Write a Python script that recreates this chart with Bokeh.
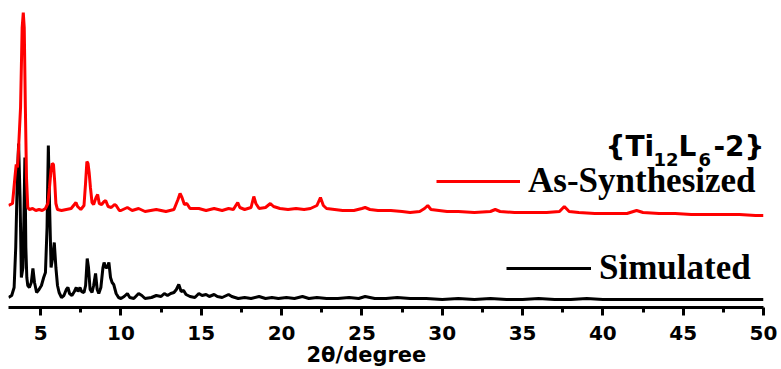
from bokeh.plotting import figure
from bokeh.models import (Range1d, FixedTicker, Legend, LegendItem, Label, Title)
from bokeh.embed import file_html
from bokeh.resources import INLINE

# Powder XRD patterns, intensities offset for stacking (a.u.)
sim_2theta = [3.0, 3.2, 3.35, 3.45, 3.55, 3.63, 3.72, 3.8, 3.9, 3.96, 4.02, 4.08, 4.14, 4.2, 4.3,
              4.42, 4.52, 4.62, 4.75, 4.9, 5.05, 5.19, 5.3, 5.4, 5.48, 5.56, 5.65, 5.75,
              5.85, 5.95, 6.05, 6.15, 6.3, 6.45, 6.6, 6.7, 6.8, 6.95, 7.1, 7.22, 7.33,
              7.45, 7.55, 7.7, 7.8, 7.9, 7.98, 8.08, 8.2, 8.3, 8.42, 8.52, 8.62, 8.75,
              8.88, 8.95, 9.05, 9.15, 9.25, 9.35, 9.45, 9.55, 9.7, 9.85, 10.0, 10.2,
              10.4, 10.55, 10.8, 11.1, 11.3, 11.5, 11.9, 12.2, 12.5, 12.7, 12.9, 13.1,
              13.3, 13.45, 13.6, 13.75, 13.9, 14.05, 14.3, 14.6, 14.85, 15.05, 15.3,
              15.5, 15.8, 16.0, 16.3, 16.7, 16.9, 17.3, 17.7, 18.1, 18.6, 19.0, 19.4,
              19.8, 20.3, 20.8, 21.3, 21.7, 22.2, 22.8, 23.5, 24.2, 24.8, 25.2, 25.8,
              26.5, 27.2, 28.0, 29.0, 30.0, 31.0, 32.0, 33.0, 34.0, 35.0, 36.0, 37.0,
              38.0, 39.0, 40.0, 41.0, 42.0, 43.0, 44.0, 45.0, 46.0, 47.0, 48.0, 49.0, 50.0]
sim_int = [10, 12, 20, 60, 130, 164, 110, 30, 40, 90, 150, 60, 30, 22, 20,
           25, 39, 25, 15, 18, 22, 30, 35, 80, 162, 100, 40, 50,
           65, 40, 22, 15, 10, 12, 18, 20, 14, 12, 16, 20, 16,
           20, 16, 15, 22, 49, 40, 18, 15, 22, 34, 18, 14, 20,
           40, 45, 40, 40, 45, 30, 25, 23, 14, 10, 9, 11,
           14, 10, 9, 14, 12, 9, 10, 12, 11, 14, 12, 14,
           15, 18, 23, 16, 17, 13, 11, 10, 14, 12, 13,
           11, 13, 11, 10, 13, 11, 9, 10, 9, 11, 9, 10,
           9, 10, 9, 11, 9, 10, 9, 9, 10, 9, 11, 9,
           9, 10, 9, 9, 8, 9, 8, 9, 8, 8, 9, 8,
           8, 9, 8, 8, 8, 8, 8, 8, 8, 8, 8, 8, 8]

exp_2theta = [3.0, 3.25, 3.4, 3.48, 3.56, 3.6, 3.75, 3.85, 3.92, 3.98, 4.05, 4.12, 4.2, 4.3,
              4.5, 4.7, 4.9, 5.1, 5.3, 5.45, 5.55, 5.65, 5.72, 5.8, 5.88, 5.95, 6.05,
              6.3, 6.6, 6.9, 7.1, 7.2, 7.3, 7.5, 7.7, 7.8, 7.88, 7.95, 8.02, 8.1, 8.2,
              8.3, 8.45, 8.55, 8.65, 8.8, 8.95, 9.05, 9.2, 9.4, 9.6, 9.7, 9.9, 10.0,
              10.4, 10.7, 11.1, 11.5, 12.2, 12.8, 13.3, 13.55, 13.68, 13.8, 13.95, 14.1,
              14.3, 14.85, 15.3, 15.8, 16.3, 16.7, 17.0, 17.15, 17.27, 17.4, 17.7, 18.1,
              18.27, 18.4, 18.6, 19.0, 19.3, 19.5, 19.9, 20.4, 20.9, 21.4, 21.8, 22.2,
              22.42, 22.6, 22.8, 23.3, 23.8, 24.5, 25.0, 25.2, 25.5, 26.0, 26.8, 27.5,
              28.0, 28.6, 28.9, 29.1, 29.3, 29.8, 30.3, 31.0, 32.0, 33.0, 33.3, 33.6,
              34.5, 35.5, 36.5, 37.3, 37.6, 37.9, 38.5, 39.5, 40.5, 41.5, 42.1, 42.5,
              43.5, 44.5, 45.5, 46.5, 47.5, 48.5, 49.5, 50.0]
exp_int = [102, 104, 130, 143, 140, 150, 200, 280, 295, 280, 200, 130, 100, 98,
           99, 97, 98, 97, 99, 104, 120, 138, 144, 143, 125, 104, 98,
           97, 98, 99, 103, 105, 101, 98, 102, 125, 146, 144, 135, 120, 105,
           103, 110, 113, 104, 103, 106, 107, 101, 100, 103, 102, 97, 97,
           100, 97, 99, 96, 98, 96, 98, 108, 114, 110, 103, 104,
           99, 99, 97, 99, 97, 99, 98, 102, 105, 100, 98, 100,
           111, 104, 99, 100, 104, 101, 99, 98, 99, 98, 99, 102,
           110, 102, 99, 98, 97, 97, 99, 100, 98, 97, 97, 96,
           95, 96, 99, 102, 98, 97, 96, 96, 95, 96, 98, 96,
           95, 95, 95, 96, 101, 96, 95, 94, 94, 94, 97, 95,
           94, 94, 93, 93, 93, 93, 92, 92]

major_ticks = [5, 10, 15, 20, 25, 30, 35, 40, 45, 50]
minor_ticks = [7.5, 12.5, 17.5, 22.5, 27.5, 32.5, 37.5, 42.5, 47.5]

SANS = "DejaVu Sans"
SERIF = "Liberation Serif"

p = figure(width=781, height=369, output_backend="svg", toolbar_location=None,
           x_range=Range1d(3, 50), y_range=Range1d(0, 307),
           y_axis_location=None,
           min_border_left=8, min_border_right=18, min_border_top=0,
           min_border_bottom=62)
p.outline_line_color = None
p.grid.visible = False
p.background_fill_color = "white"
p.border_fill_color = "white"

ax = p.xaxis[0]
ax.ticker = FixedTicker(ticks=major_ticks, minor_ticks=minor_ticks)
ax.axis_line_width = 3
ax.axis_line_color = "black"
ax.major_tick_line_width = 3
ax.minor_tick_line_width = 3
ax.major_tick_out = 8
ax.major_tick_in = 0
ax.minor_tick_out = 5
ax.minor_tick_in = 0
ax.major_label_text_font = SANS
ax.major_label_text_font_style = "bold"
ax.major_label_text_font_size = "20px"
ax.major_label_text_color = "black"
ax.major_label_standoff = 10

r_sim = p.line(sim_2theta, sim_int, line_color="black", line_width=3)
r_exp = p.line(exp_2theta, exp_int, line_color="red", line_width=3)

# axis title, set a little left of the frame centre
p.add_layout(Title(text="2θ/degree", align="left", offset=298, standoff=-3,
                   text_font=SANS, text_font_style="bold", text_font_size="21px",
                   text_color="black"), "below")

# compound name with subscripts
name_parts = [("{Ti", 605, 146, "28px"), ("12", 653, 159, "18px"),
              ("L", 678, 146, "28px"), ("6", 698, 159, "18px"),
              ("-2}", 713, 146, "28px")]
for txt, px, py, fs in name_parts:
    p.add_layout(Label(x=px - 8, y=307 - py, x_units="screen", y_units="screen",
                       text=txt, text_align="left", text_baseline="alphabetic",
                       text_font=SANS, text_font_style="bold", text_font_size=fs,
                       text_color="black"))

def make_legend(renderer, label, loc, glyph_w):
    return Legend(items=[LegendItem(label=label, renderers=[renderer])],
                  location=loc, orientation="vertical",
                  padding=0, margin=0, spacing=0,
                  glyph_width=glyph_w, glyph_height=40, label_height=40,
                  label_standoff=8,
                  label_text_font=SERIF, label_text_font_style="bold",
                  label_text_font_size="35px", label_text_color="black",
                  border_line_alpha=0, background_fill_alpha=0)

p.add_layout(make_legend(r_exp, "As-Synthesized", (428, 106), 84))
p.add_layout(make_legend(r_sim, "Simulated", (498, 19), 85))

open("out.html", "w").write(file_html(p, INLINE))
